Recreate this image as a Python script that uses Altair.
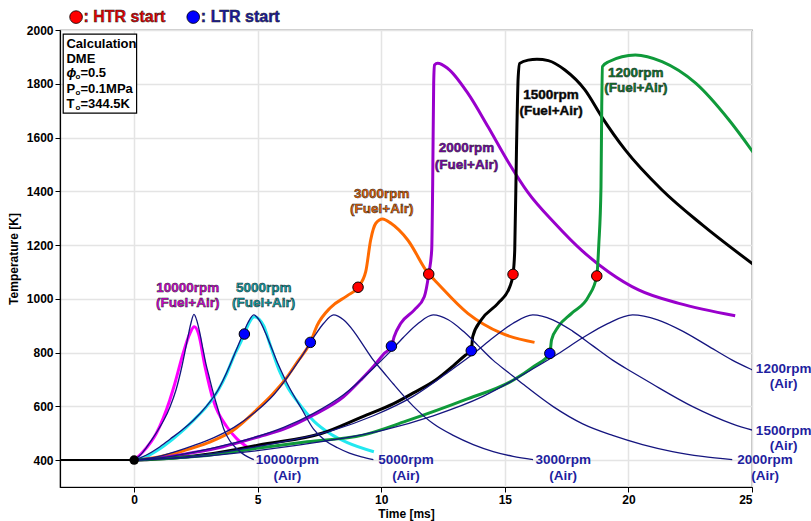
import altair as alt
import pandas as pd

FONT = "Liberation Sans"

# ---------------- motored (air only) temperature histories: time [ms], T [K]
AIR_10000_MS = [0, 0.24, 0.48, 0.73, 0.97, 1.21, 1.45, 1.69, 1.94, 2.06, 2.18, 2.30, 2.42,
                2.54, 2.66, 2.78, 2.90, 3.03, 3.15, 3.39, 3.63, 3.87, 4.11, 4.36, 4.60, 4.84]
AIR_10000_K = [400, 418, 445, 478, 512, 550, 598, 660, 752, 805, 860, 910, 942,
               918, 872, 815, 760, 712, 668, 590, 515, 472, 446, 426, 412, 402]
AIR_5000_MS = [0, 0.48, 0.97, 1.45, 1.94, 2.42, 2.90, 3.39, 3.87, 4.11, 4.36, 4.60, 4.84,
               5.08, 5.32, 5.57, 5.81, 6.05, 6.29, 6.78, 7.26, 7.74, 8.23, 8.71, 9.20, 9.68]
AIR_5000_K = [400, 418, 445, 478, 512, 550, 598, 660, 752, 805, 860, 910, 940,
              918, 872, 815, 760, 712, 668, 590, 515, 472, 446, 426, 412, 402]
AIR_3000_MS = [0, 0.81, 1.61, 2.42, 3.23, 4.04, 4.84, 5.65, 6.46, 6.86, 7.26, 7.67, 8.07,
               8.47, 8.88, 9.28, 9.68, 10.09, 10.49, 11.30, 12.11, 12.91, 13.72, 14.53, 15.33, 16.14]
AIR_3000_K = [400, 410, 430, 455, 484, 522, 574, 643, 742, 797, 856, 909, 940,
              922, 880, 826, 772, 727, 683, 600, 535, 492, 458, 432, 414, 402]
AIR_2000_MS = [0, 1.21, 2.42, 3.63, 4.84, 6.05, 7.26, 8.47, 9.68, 10.29, 10.89, 11.50, 12.10,
               12.71, 13.31, 13.92, 14.52, 15.13, 15.73, 16.94, 18.15, 19.36, 20.57, 21.78, 22.99, 24.20]
AIR_2000_K = [400, 410, 430, 455, 484, 522, 574, 643, 742, 797, 856, 909, 940,
              922, 880, 826, 772, 727, 683, 600, 535, 492, 458, 432, 414, 402]
AIR_1500_MS = [0, 1.61, 3.23, 4.84, 6.45, 8.07, 9.68, 11.29, 12.90, 13.71, 14.52, 15.32, 16.13,
               16.94, 17.74, 18.55, 19.36, 20.16, 20.97, 22.58, 24.20, 25.81]
AIR_1500_K = [400, 408, 425, 448, 476, 512, 565, 637, 740, 795, 855, 908, 940,
              922, 880, 826, 772, 727, 683, 600, 535, 492]
AIR_1200_MS = [0, 2.02, 4.03, 6.05, 8.07, 10.09, 12.10, 14.12, 16.14, 17.14, 18.15, 19.16, 20.17,
               21.18, 22.19, 23.20, 24.20, 25.21, 26.22]
AIR_1200_K = [400, 408, 425, 448, 476, 512, 565, 637, 740, 795, 855, 908, 940,
              922, 880, 826, 772, 727, 683]

# ---------------- fuel + air temperature histories
FA_10000_MS = [0, 0.36, 0.9, 1.44, 1.65, 1.98, 2.26, 2.43, 2.6, 2.87, 3.2, 3.75, 4.15, 4.56]
FA_10000_K = [400, 431, 500, 623, 686, 797, 872, 896, 872, 747, 623, 524, 480, 450]
FA_5000_MS = [0, 0.6, 1.2, 1.85, 2.4, 2.93, 3.4, 3.75, 4.05, 4.29, 4.46, 4.65, 4.87, 5.05,
              5.24, 5.5, 5.91, 6.25, 6.59, 7.27, 7.95, 8.63, 9.7]
FA_5000_K = [400, 418, 452, 500, 548, 599, 660, 723, 790, 834, 869, 910, 933, 925,
             900, 830, 725, 665, 620, 545, 497, 465, 431]
FA_3000_MS = [0, 1, 2, 3, 4, 5.05, 5.6, 6.1, 6.6, 7.13, 7.4, 7.95, 8.63, 9.06, 9.37, 9.57,
              9.78, 10.05, 10.39, 11.07, 11.92, 12.15, 13.5, 14.86, 16.2]
FA_3000_K = [400, 412, 435, 465, 510, 595, 645, 698, 765, 838, 900, 968, 1012, 1043, 1101, 1219,
             1281, 1297, 1281, 1219, 1092, 1070, 946, 872, 838]
FA_2000_MS = [0, 1.2, 2.4, 3.6, 5.05, 6.05, 7.26, 8.47, 9.17, 9.7, 10.1, 10.41, 10.52, 10.79,
              11.33, 11.74, 11.92, 12.04, 12.08, 12.12, 12.15, 12.28, 12.69, 13.5, 14.32, 15.13,
              15.94, 17.02, 18.11, 19.2, 20.41, 22.04, 24.32]
FA_2000_K = [400, 410, 428, 450, 487, 515, 568, 635, 698, 750, 795, 824, 859, 909,
             958, 1008, 1092, 1182, 1430, 1802, 1870, 1876, 1857, 1765, 1640, 1510,
             1395, 1281, 1180, 1100, 1033, 983, 937]
FA_1500_MS = [0, 1.6, 3.2, 5.05, 7.6, 9.25, 10.5, 11.3, 12.2, 12.9, 13.4, 13.64, 13.7, 14.04,
              14.72, 15.2, 15.33, 15.4, 15.47, 15.54, 15.6, 15.94, 16.3, 16.76, 17.43, 18.24,
              18.92, 19.87, 21.36, 22.99, 25.1]
FA_1500_K = [400, 408, 425, 456, 500, 562, 610, 650, 698, 750, 790, 807, 859, 921,
             983, 1045, 1091, 1182, 1554, 1826, 1876, 1888, 1891, 1886, 1851, 1777,
             1677, 1554, 1405, 1275, 1125]
FA_1200_MS = [0, 2.68, 5.05, 7.0, 9.25, 11.0, 13.35, 15.35, 16.2, 16.82, 16.89, 17.16, 17.7,
              18.38, 18.72, 18.8, 18.89, 18.92, 18.95, 19.2, 20.28, 21.36, 22.72, 24.07, 25.1]
FA_1200_K = [400, 415, 445, 468, 493, 545, 623, 698, 750, 797, 847, 896, 946,
             1008, 1085, 1200, 1417, 1715, 1864, 1882, 1907, 1882, 1802, 1665, 1538]

# ---------------- ignition markers
LTR_MS = [4.46, 7.13, 10.41, 13.64, 16.82]
LTR_K = [869, 838, 824, 807, 797]
HTR_MS = [9.06, 11.92, 15.33, 18.72]
HTR_K = [1043, 1092, 1091, 1085]

FUEL_NAMES = ["10000rpm", "5000rpm", "3000rpm", "2000rpm", "1500rpm", "1200rpm"]
FUEL_COLORS = ["#ff00ff", "#22e8f0", "#ff6a00", "#9900cc", "#000000", "#0f9a3a"]
AIR_COLOR = "#15157f"

X_TICKS = [0, 5, 10, 15, 20, 25]
Y_TICKS = [400, 600, 800, 1000, 1200, 1400, 1600, 1800, 2000]


def frame(name, ms, kelvin):
    return pd.DataFrame({"series": name, "t": ms, "T": kelvin})


air = pd.concat([
    frame("10000rpm", AIR_10000_MS, AIR_10000_K),
    frame("5000rpm", AIR_5000_MS, AIR_5000_K),
    frame("3000rpm", AIR_3000_MS, AIR_3000_K),
    frame("2000rpm", AIR_2000_MS, AIR_2000_K),
    frame("1500rpm", AIR_1500_MS, AIR_1500_K),
    frame("1200rpm", AIR_1200_MS, AIR_1200_K),
])
fuel = pd.concat([
    frame("10000rpm", FA_10000_MS, FA_10000_K),
    frame("5000rpm", FA_5000_MS, FA_5000_K),
    frame("3000rpm", FA_3000_MS, FA_3000_K),
    frame("2000rpm", FA_2000_MS, FA_2000_K),
    frame("1500rpm", FA_1500_MS, FA_1500_K),
    frame("1200rpm", FA_1200_MS, FA_1200_K),
])
intake = pd.DataFrame({"t": [-3, 0], "T": [400, 400]})
start = pd.DataFrame({"t": [0], "T": [400]})
ltr = pd.DataFrame({"t": LTR_MS, "T": LTR_K})
htr = pd.DataFrame({"t": HTR_MS, "T": HTR_K})

# curve labels
fuel_labels = pd.DataFrame({
    "t": [2.17, 2.17, 5.24, 5.24, 10.02, 10.02, 13.45, 13.45, 16.87, 16.87, 20.3, 20.3],
    "T": [1039, 983, 1039, 983, 1390, 1333, 1560, 1498, 1758, 1699, 1839, 1783],
    "text": ["10000rpm", "(Fuel+Air)", "5000rpm", "(Fuel+Air)", "3000rpm", "(Fuel+Air)",
             "2000rpm", "(Fuel+Air)", "1500rpm", "(Fuel+Air)", "1200rpm", "(Fuel+Air)"],
    "color": ["#e000e0", "#e000e0", "#0aa6ad", "#0aa6ad", "#ee6400", "#ee6400",
              "#8000b8", "#8000b8", "#000000", "#000000", "#0a7f2e", "#0a7f2e"],
})
air_labels = pd.DataFrame({
    "t": [6.2, 6.2, 11.0, 11.0, 17.36, 17.36, 25.53, 25.53, 26.28, 26.28, 26.28, 26.28],
    "T": [400, 340, 400, 340, 400, 340, 400, 340, 509, 452, 738, 682],
    "text": ["10000rpm", "(Air)", "5000rpm", "(Air)", "3000rpm", "(Air)",
             "2000rpm", "(Air)", "1500rpm", "(Air)", "1200rpm", "(Air)"],
})

# marker key above the plot
key_dots = pd.DataFrame({"t": [-2.35, 2.39], "T": [2048, 2048], "c": ["#ff0000", "#0000ff"]})
key_text = pd.DataFrame({"t": [-2.05, 2.7], "T": [2048, 2048],
                         "text": [": HTR start", ": LTR start"], "c": ["#ee0000", "#1a1aa8"]})

# condition box
box = pd.DataFrame({"t": [-2.87], "t2": [0.1], "T": [1985], "T2": [1691]})
box_lines = pd.DataFrame({"t": [-2.74, -2.74, -2.74, -2.74], "T": [1948, 1892, 1780, 1725],
                          "text": ["Calculation", "DME", "P", "T"]})
box_phi = pd.DataFrame({"t": [-2.74], "T": [1840], "text": ["\u03d5"]})
box_sub = pd.DataFrame({"t": [-2.74, -2.74, -2.74], "T": [1840, 1780, 1725], "text": ["o", "o", "o"]})
box_vals = pd.DataFrame({"t": [-2.74, -2.74, -2.74], "T": [1840, 1780, 1725],
                         "text": ["=0.5", "=0.1MPa", "=344.5K"]})

xs = alt.Scale(domain=[-3, 25], nice=False, zero=False)
ys = alt.Scale(domain=[300, 2000], nice=False, zero=False)

axis_common = dict(
    grid=True, gridColor="#e4e4e4", gridWidth=1.5, domainColor="#000000", domainWidth=1.2,
    tickColor="#000000", tickSize=5, labelFont=FONT, labelFontWeight="bold", labelFontSize=12,
    labelColor="#000000", titleFont=FONT, titleFontWeight="bold", titleFontSize=12,
    titleColor="#000000", format="d",
)
X = alt.X("t:Q", scale=xs, title="Time [ms]",
          axis=alt.Axis(values=X_TICKS, titlePadding=3, **axis_common))
Y = alt.Y("T:Q", scale=ys, title="Temperature [K]",
          axis=alt.Axis(values=Y_TICKS, titlePadding=6, **axis_common))

base = alt.Chart(intake).mark_line(color="#000000", strokeWidth=2).encode(x=X, y=Y)

fuel_lines = alt.Chart(fuel).mark_line(strokeWidth=3, interpolate="monotone", clip=True).encode(
    x=X, y=Y,
    color=alt.Color("series:N", scale=alt.Scale(domain=FUEL_NAMES, range=FUEL_COLORS), legend=None),
    order=alt.Order("t:Q"),
)
air_lines = alt.Chart(air).mark_line(strokeWidth=1.3, color=AIR_COLOR, interpolate="monotone",
                                     clip=True).encode(
    x=X, y=Y, detail="series:N", order=alt.Order("t:Q"),
)
start_dot = alt.Chart(start).mark_point(shape="circle", filled=True, size=90, color="#000000",
                                        opacity=1).encode(x=X, y=Y)
ltr_dots = alt.Chart(ltr).mark_point(shape="circle", filled=True, size=110, fill="#0000ff",
                                     stroke="#000000", strokeWidth=1, opacity=1).encode(x=X, y=Y)
htr_dots = alt.Chart(htr).mark_point(shape="circle", filled=True, size=110, fill="#ff0000",
                                     stroke="#000000", strokeWidth=1, opacity=1).encode(x=X, y=Y)

fuel_text = alt.Chart(fuel_labels).mark_text(
    font=FONT, fontWeight="bold", fontSize=13.5, stroke="#222222", strokeWidth=0.5,
    align="center", baseline="middle",
).encode(x=X, y=Y, text="text:N", color=alt.Color("color:N", scale=None))
air_text = alt.Chart(air_labels).mark_text(
    font=FONT, fontWeight="bold", fontSize=13.5, color="#1f1fa0", align="center", baseline="middle",
).encode(x=X, y=Y, text="text:N")

key_marks = alt.Chart(key_dots).mark_point(shape="circle", filled=True, size=160, opacity=1,
                                           stroke="#000000", strokeWidth=0.8).encode(
    x=X, y=Y, fill=alt.Fill("c:N", scale=None))
key_labels = alt.Chart(key_text).mark_text(
    font=FONT, fontWeight="bold", fontSize=16, align="left", baseline="middle",
    stroke="#222222", strokeWidth=0.5,
).encode(x=X, y=Y, text="text:N", color=alt.Color("c:N", scale=None))

box_rect = alt.Chart(box).mark_rect(fill="#ffffff", stroke="#000000", strokeWidth=1.2).encode(
    x=X, x2="t2:Q", y=Y, y2="T2:Q")
box_main = alt.Chart(box_lines).mark_text(font=FONT, fontWeight="bold", fontSize=13, color="#000",
                                          align="left", baseline="middle").encode(x=X, y=Y, text="text:N")
box_phi_t = alt.Chart(box_phi).mark_text(font=FONT, fontWeight="bold", fontStyle="italic",
                                         fontSize=13, color="#000", align="left",
                                         baseline="middle").encode(x=X, y=Y, text="text:N")
box_sub_t = alt.Chart(box_sub).mark_text(font=FONT, fontWeight="bold", fontSize=8, color="#000",
                                         align="left", baseline="middle", dx=9, dy=4).encode(
    x=X, y=Y, text="text:N")
box_val_t = alt.Chart(box_vals).mark_text(font=FONT, fontWeight="bold", fontSize=13, color="#000",
                                          align="left", baseline="middle", dx=14).encode(
    x=X, y=Y, text="text:N")

chart = alt.layer(
    base, fuel_lines, air_lines, start_dot, ltr_dots, htr_dots, fuel_text, air_text,
    key_marks, key_labels, box_rect, box_main, box_phi_t, box_sub_t, box_val_t,
).properties(
    width=692, height=457,
    padding={"left": 60, "top": 30, "right": 59, "bottom": 34},
    autosize=alt.AutoSizeParams(type="none"),
    background="#ffffff",
).configure_view(stroke="#333333", strokeWidth=1.2)

chart.save("out.html", embed_options={"renderer": "svg", "actions": False})
